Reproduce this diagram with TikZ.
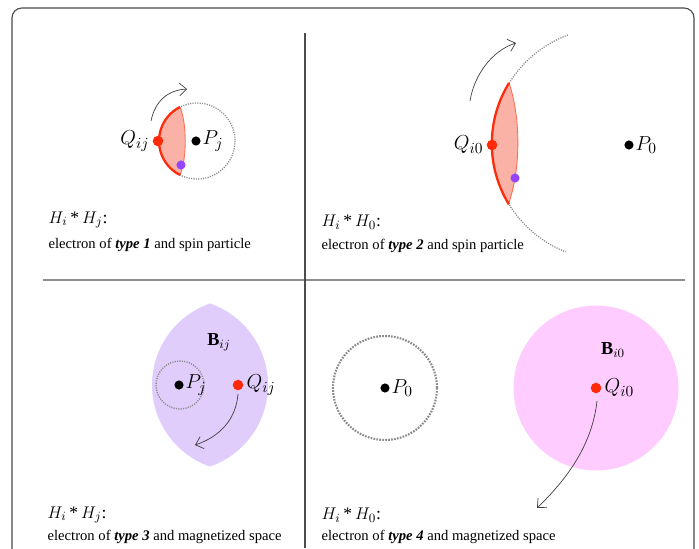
\documentclass[tikz,border=0pt]{standalone}
\usepackage{fontspec}
\setmainfont{Liberation Serif}
\usetikzlibrary{arrows.meta,positioning}
\definecolor{frameGray}{HTML}{4A4A4A}
\definecolor{ruleGray}{HTML}{8E8E8E}
\definecolor{orbitGray}{HTML}{8A8A8A}
\definecolor{lensSalmon}{HTML}{FAB2A6}
\definecolor{edgeRed}{HTML}{FF2A0A}
\definecolor{spinViolet}{HTML}{9545FF}
\definecolor{fieldLilac}{HTML}{E0CDFC}
\definecolor{fieldPink}{HTML}{FFCCFF}

\begin{document}
\begin{tikzpicture}[x=0.025cm, y=-0.025cm,
    every node/.style={inner sep=1pt},
    dot/.style={circle, fill, inner sep=0pt, minimum size=6.5pt},
    sym/.style={font=\fontsize{15}{17}\selectfont},
    head/.style={anchor=west, font=\fontsize{12.5}{14}\selectfont},
    caption/.style={anchor=west, font=\fontsize{10.4}{12}\selectfont},
    turn/.style={-{Straight Barb[length=5pt,width=9pt]}, black!75, line width=0.5pt},
    orbit/.style={orbitGray, line width=0.9pt, dash pattern=on 0.8pt off 0.9pt},
    edge/.style={edgeRed, line width=1.6pt}]
  \useasboundingbox (0,0) rectangle (699,548);
  \clip (0,0) rectangle (699,548);
  \draw[frameGray, line width=0.8pt, rounded corners=7pt] (12,8) rectangle (694,580);
  \draw[ruleGray, line width=1.2pt] (43,280) -- (685,280);
  \draw[black!70, line width=0.8pt] (305,33) -- (305,548);

  % type 1
  \draw[orbit] (197,141) circle[radius=38];
  \fill[lensSalmon] (180,107) arc[start angle=243.4, end angle=116.6, radius=38]
    .. controls (187,158) and (187,124) .. cycle;
  \draw[edgeRed!70, line width=0.6pt] (180,175) .. controls (187,158) and (187,124) .. (180,107);
  \draw[edge] (180,107) arc[start angle=243.4, end angle=116.6, radius=38];
  \node[dot, edgeRed, minimum size=7.5pt] (Qij1) at (158,141) {};
  \node[sym, left=1pt of Qij1] (Qij1lbl) {$Q_{ij}$};
  \node[dot] (Pj1) at (196,141) {};
  \node[sym, right=0pt of Pj1] (Pj1lbl) {$P_j$};
  \node[dot, spinViolet] (spin1) at (181,165) {};
  \coordinate (turn1a) at (151,121);
  \coordinate (turn1b) at (187,89);
  \draw[turn] (turn1a) .. controls (155,101) and (168,90) .. (turn1b);
  \node[head] (head1) at (47,220) {$H_i$\,*\,$H_j$:};
  \node[caption] (cap1) at (47,245) {electron of \textbf{\textit{type 1}} and spin particle};

  % type 2
  \draw[orbit] (568,35) arc[start angle=249.8, end angle=111.5, radius=116];
  \fill[lensSalmon] (509,83) arc[start angle=211.6, end angle=148.6, radius=116]
    .. controls (521,170) and (521,118) .. cycle;
  \draw[edgeRed!70, line width=0.6pt] (508,205) .. controls (521,170) and (521,118) .. (509,83);
  \draw[edge] (509,83) arc[start angle=211.6, end angle=148.6, radius=116];
  \node[dot, edgeRed, minimum size=7.5pt] (Qi02) at (492,145) {};
  \node[sym, left=1pt of Qi02] (Qi02lbl) {$Q_{i0}$};
  \node[dot] (P02) at (629,145) {};
  \node[sym, right=0pt of P02] (P02lbl) {$P_0$};
  \node[dot, spinViolet] (spin2) at (515,178) {};
  \coordinate (turn2a) at (470,101);
  \coordinate (turn2b) at (516,43);
  \draw[turn] (turn2a) .. controls (474,76) and (491,51) .. (turn2b);
  \node[head] (head2) at (320,222) {$H_i$\,*\,$H_0$:};
  \node[caption] (cap2) at (320,246) {electron of \textbf{\textit{type 2}} and spin particle};

  % type 3
  \begin{scope}
    \clip (238.3,385) circle[radius=86.3];
    \fill[fieldLilac] (181.7,385) circle[radius=86.3];
  \end{scope}
  \node[font=\fontsize{13}{15}\selectfont] (Bij) at (219,342) {$\mathbf{B}_{ij}$};
  \draw[orbit, line width=1pt] (180,385) circle[radius=24];
  \node[dot] (Pj3) at (179,385) {};
  \node[sym, right=0pt of Pj3] (Pj3lbl) {$P_j$};
  \node[dot, edgeRed, minimum size=7.5pt] (Qij3) at (238,385) {};
  \node[sym, right=1pt of Qij3] (Qij3lbl) {$Q_{ij}$};
  \coordinate (turn3a) at (238,394);
  \coordinate (turn3b) at (195,445);
  \draw[turn] (turn3a) .. controls (236,420) and (219,437) .. (turn3b);
  \node[head] (head3) at (46,515) {$H_i$\,*\,$H_j$:};
  \node[caption] (cap3) at (46,537) {electron of \textbf{\textit{type 3}} and magnetized space};

  % type 4
  \draw[orbitGray, line width=1.5pt, dash pattern=on 1.2pt off 0.9pt] (385,388) circle[radius=52];
  \node[dot] (P04) at (385,388) {};
  \node[sym, right=0pt of P04] (P04lbl) {$P_0$};
  \fill[fieldPink] (596,388) circle[radius=82.5];
  \node[font=\fontsize{13}{15}\selectfont] (Bi0) at (613,350) {$\mathbf{B}_{i0}$};
  \node[dot, edgeRed, minimum size=7.5pt] (Qi04) at (596,388) {};
  \node[sym, right=1pt of Qi04] (Qi04lbl) {$Q_{i0}$};
  \coordinate (turn4a) at (597,401);
  \coordinate (turn4b) at (537,508);
  \draw[turn] (turn4a) .. controls (592,446) and (566,480) .. (turn4b);
  \node[head] (head4) at (320,515) {$H_i$\,*\,$H_0$:};
  \node[caption] (cap4) at (320,537) {electron of \textbf{\textit{type 4}} and magnetized space};
\end{tikzpicture}
\end{document}
